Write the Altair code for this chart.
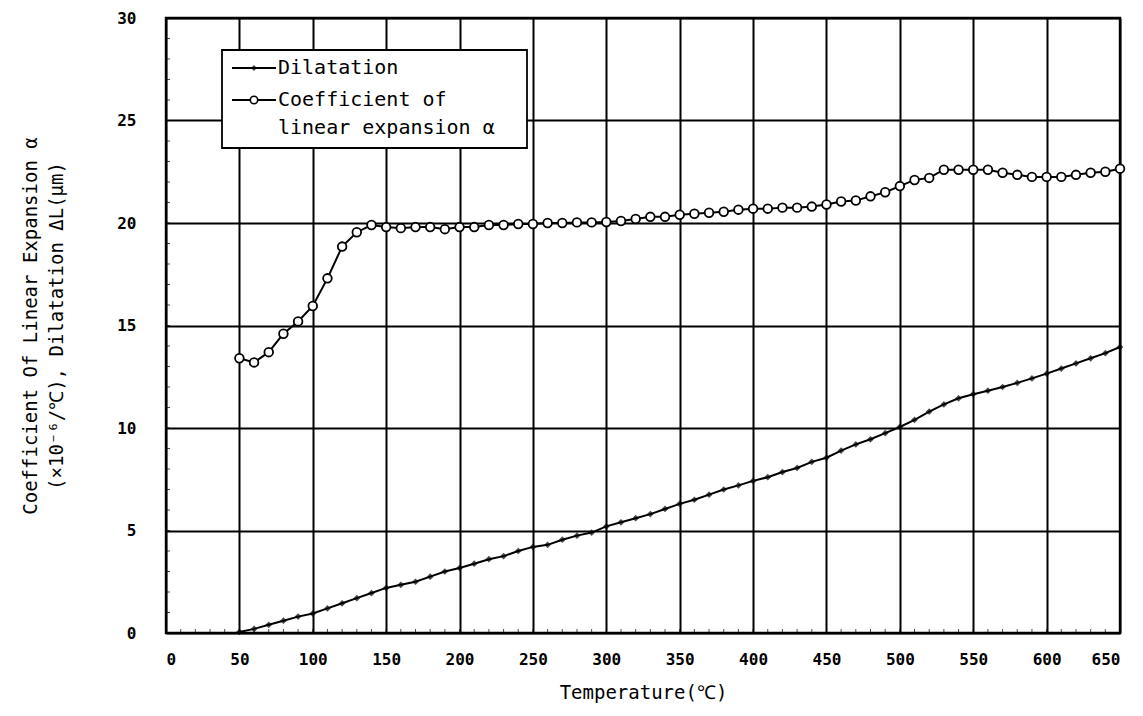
import altair as alt
import pandas as pd

temps = list(range(50, 660, 10))

coef = [13.4, 13.2, 13.7, 14.6, 15.2, 15.95, 17.3, 18.85, 19.55, 19.9,
        19.8, 19.75, 19.8, 19.8, 19.7, 19.8, 19.8, 19.9, 19.9, 19.95,
        19.95, 20.0, 20.0, 20.03, 20.03, 20.05, 20.1, 20.2, 20.3, 20.3,
        20.4, 20.45, 20.5, 20.55, 20.65, 20.7, 20.7, 20.75, 20.75, 20.8,
        20.9, 21.05, 21.1, 21.3, 21.5, 21.8, 22.1, 22.2, 22.6, 22.6,
        22.6, 22.6, 22.45, 22.35, 22.25, 22.25, 22.25, 22.35, 22.45, 22.5,
        22.65]

dil = [0.05, 0.2, 0.4, 0.6, 0.8, 0.95, 1.2, 1.45, 1.7, 1.95,
       2.2, 2.35, 2.5, 2.75, 3.0, 3.17, 3.38, 3.6, 3.75, 4.0,
       4.2, 4.3, 4.55, 4.75, 4.9, 5.2, 5.4, 5.6, 5.8, 6.05,
       6.3, 6.5, 6.75, 7.0, 7.2, 7.42, 7.6, 7.85, 8.05, 8.35,
       8.55, 8.9, 9.2, 9.45, 9.75, 10.05, 10.4, 10.8, 11.15, 11.45,
       11.65, 11.82, 12.0, 12.2, 12.42, 12.65, 12.9, 13.15, 13.4, 13.65,
       13.95]

x_ticks = list(range(0, 700, 50))
y_ticks = list(range(0, 35, 5))
x_minor = list(range(0, 660, 10))
y_minor = list(range(0, 31, 1))
legend_labels = ["Dilatation", "Coefficient of", "linear expansion α"]

W, H = 954, 615
FONT = "DejaVu Sans Mono"

df_c = pd.DataFrame({"T": temps, "v": coef})
df_d = pd.DataFrame({"T": temps, "v": dil})

xs = alt.Scale(domain=[0, 650], nice=False)
ys = alt.Scale(domain=[0, 30], nice=False)

xaxis = alt.Axis(values=x_ticks, title="Temperature(℃)", grid=True, gridColor="black",
                 gridWidth=2, gridOpacity=1, ticks=False, domain=False,
                 labelFont=FONT, labelFontSize=16, labelFontWeight="bold",
                 labelColor="black", labelPadding=18,
                 titleFont=FONT, titleFontSize=19, titleFontWeight="normal",
                 titleColor="black", titlePadding=16)
yaxis = alt.Axis(values=y_ticks,
                 title=["Coefficient Of Linear Expansion α", "(×10⁻⁶/℃), Dilatation ΔL(μm)"],
                 grid=True, gridColor="black", gridWidth=2, gridOpacity=1,
                 ticks=False, domain=False,
                 labelFont=FONT, labelFontSize=16, labelFontWeight="bold",
                 labelColor="black", labelPadding=30,
                 titleFont=FONT, titleFontSize=19, titleFontWeight="normal",
                 titleColor="black", titlePadding=50, titleLineHeight=26)

base_c = alt.Chart(df_c)
base_d = alt.Chart(df_d)

line_d = base_d.mark_line(color="black", strokeWidth=2).encode(
    x=alt.X("T:Q", scale=xs, axis=xaxis),
    y=alt.Y("v:Q", scale=ys, axis=yaxis))
pts_d = base_d.mark_point(shape="diamond", filled=True, color="black", size=45).encode(
    x=alt.X("T:Q", scale=xs), y=alt.Y("v:Q", scale=ys))

line_c = base_c.mark_line(color="black", strokeWidth=2).encode(
    x=alt.X("T:Q", scale=xs), y=alt.Y("v:Q", scale=ys))
pts_c = base_c.mark_point(shape="circle", filled=True, fill="white", stroke="black",
                          strokeWidth=1.8, size=75, opacity=1).encode(
    x=alt.X("T:Q", scale=xs), y=alt.Y("v:Q", scale=ys))

# minor tick marks along the axes
xm = alt.Chart(pd.DataFrame({"t": x_minor})).mark_tick(
    orient="vertical", color="black", size=8, thickness=1, clip=True).encode(
    x=alt.X("t:Q", scale=xs), y=alt.value(H))
ym = alt.Chart(pd.DataFrame({"t": y_minor})).mark_tick(
    orient="horizontal", color="black", size=8, thickness=1, clip=True).encode(
    y=alt.Y("t:Q", scale=ys), x=alt.value(0))

# legend (drawn manually)
leg_box = alt.Chart().mark_rect(fill="white", stroke="black", strokeWidth=1.8).encode(
    x=alt.value(56), x2=alt.value(361), y=alt.value(32), y2=alt.value(130))
leg_l1 = alt.Chart().mark_rule(color="black", strokeWidth=1.8).encode(
    x=alt.value(66), x2=alt.value(110), y=alt.value(50))
leg_l2 = alt.Chart().mark_rule(color="black", strokeWidth=1.8).encode(
    x=alt.value(66), x2=alt.value(110), y=alt.value(82))
leg_p1 = alt.Chart().mark_point(shape="diamond", filled=True, color="black", size=35).encode(
    x=alt.value(88), y=alt.value(50))
leg_p2 = alt.Chart().mark_point(shape="circle", filled=True, fill="white", stroke="black",
                                strokeWidth=1.6, size=55, opacity=1).encode(
    x=alt.value(88), y=alt.value(82))
leg_t1 = alt.Chart().mark_text(text=legend_labels[0], align="left", baseline="middle",
                               font=FONT, fontSize=20, color="black").encode(
    x=alt.value(112), y=alt.value(50))
leg_t2 = alt.Chart().mark_text(text=legend_labels[1], align="left", baseline="middle",
                               font=FONT, fontSize=20, color="black").encode(
    x=alt.value(112), y=alt.value(82))
leg_t3 = alt.Chart().mark_text(text=legend_labels[2], align="left", baseline="middle",
                               font=FONT, fontSize=20, color="black").encode(
    x=alt.value(112), y=alt.value(110))

chart = alt.layer(
    xm, ym, line_c, pts_c, line_d, pts_d,
    leg_box, leg_l1, leg_l2, leg_p1, leg_p2, leg_t1, leg_t2, leg_t3
).properties(
    width=W, height=H,
    autosize=alt.AutoSizeParams(type="none"),
    padding={"left": 158, "top": 10, "right": 15, "bottom": 82},
    background="white"
).configure_view(stroke="black", strokeWidth=2.4)

chart.save("out.html", embed_options={"renderer": "svg", "actions": False})
